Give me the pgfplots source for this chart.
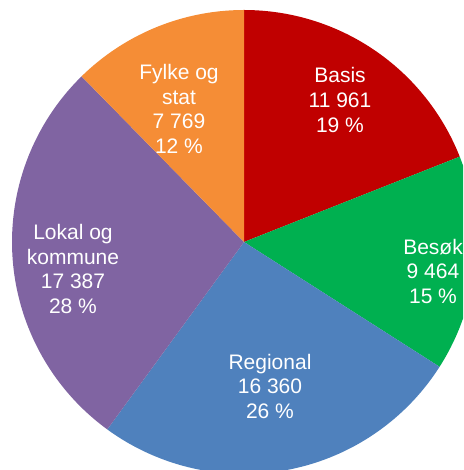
\documentclass[border=0pt]{standalone}
\usepackage{pgfplots}
\usepackage{pgfplotstable}
\usepackage{fontspec}
\setmainfont{Liberation Sans}
\pgfplotsset{compat=1.18}

\definecolor{cBasis}{HTML}{C00000}
\definecolor{cBesok}{HTML}{00B050}
\definecolor{cRegional}{HTML}{4F81BD}
\definecolor{cLokal}{HTML}{8064A2}
\definecolor{cFylke}{HTML}{F58D36}

% values, clockwise from 12 o'clock
\pgfplotstableread{
value
11961
9464
16360
17387
7769
}\pietable

\begin{document}
\begin{tikzpicture}
\pgfkeys{/pgf/fpu=true, /pgf/fpu/output format=fixed}
\pgfplotstablegetelem{0}{value}\of\pietable \pgfmathsetmacro\vA{\pgfplotsretval}
\pgfplotstablegetelem{1}{value}\of\pietable \pgfmathsetmacro\vB{\pgfplotsretval}
\pgfplotstablegetelem{2}{value}\of\pietable \pgfmathsetmacro\vC{\pgfplotsretval}
\pgfplotstablegetelem{3}{value}\of\pietable \pgfmathsetmacro\vD{\pgfplotsretval}
\pgfplotstablegetelem{4}{value}\of\pietable \pgfmathsetmacro\vE{\pgfplotsretval}
\pgfmathsetmacro\tot{\vA+\vB+\vC+\vD+\vE}
\pgfmathsetmacro\aA{90-360*\vA/\tot}
\pgfmathsetmacro\aB{\aA-360*\vB/\tot}
\pgfmathsetmacro\aC{\aB-360*\vC/\tot}
\pgfmathsetmacro\aD{\aC-360*\vD/\tot}
\pgfkeys{/pgf/fpu=false}
\def\cx{244}\def\cy{228}\def\R{232}
\begin{axis}[
    name=ax,
    scale only axis, width=231.5pt, height=235pt,
    xmin=0, xmax=463, ymin=0, ymax=470,
    hide axis, clip=true,
    every axis plot/.append style={draw=none, samples=90},
]
\addplot[fill=cBasis, domain=\aA:90] ({\cx+\R*cos(x)},{\cy+\R*sin(x)}) -- (axis cs:\cx,\cy) -- cycle;
\addplot[fill=cBesok, domain=\aB:\aA] ({\cx+\R*cos(x)},{\cy+\R*sin(x)}) -- (axis cs:\cx,\cy) -- cycle;
\addplot[fill=cRegional, domain=\aC:\aB] ({\cx+\R*cos(x)},{\cy+\R*sin(x)}) -- (axis cs:\cx,\cy) -- cycle;
\addplot[fill=cLokal, domain=\aD:\aC] ({\cx+\R*cos(x)},{\cy+\R*sin(x)}) -- (axis cs:\cx,\cy) -- cycle;
\addplot[fill=cFylke, domain=-270:\aD] ({\cx+\R*cos(x)},{\cy+\R*sin(x)}) -- (axis cs:\cx,\cy) -- cycle;

\tikzset{lbl/.style={text=white, align=center, inner sep=0pt,
    font=\fontsize{10.5}{12.25}\selectfont}}
\node[lbl] at (axis cs:340,370) {Basis\\11 961\\19 \%};
\node[lbl] at (axis cs:433,199) {Besøk\\9 464\\15 \%};
\node[lbl] at (axis cs:270,84) {Regional\\16 360\\26 \%};
\node[lbl] at (axis cs:73,201) {Lokal og\\kommune\\17 387\\28 \%};
\node[lbl] at (axis cs:179,361) {Fylke og\\stat\\7 769\\12 \%};
\end{axis}
\pgfresetboundingbox
\path (ax.south west) rectangle (ax.north east);
\end{tikzpicture}
\end{document}
